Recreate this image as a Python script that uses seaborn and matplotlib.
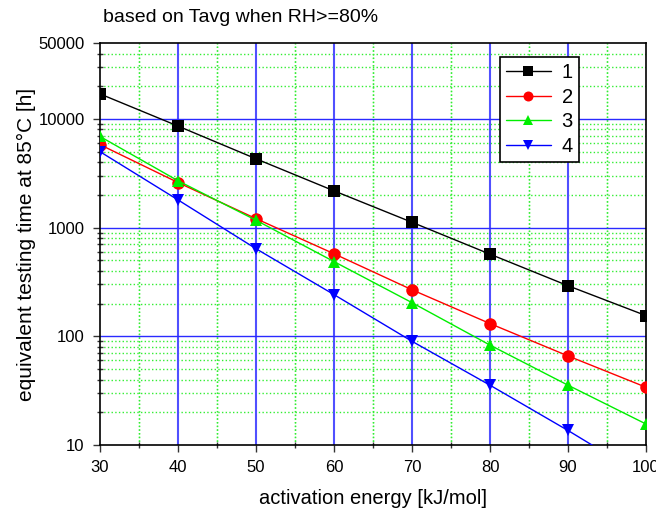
import numpy as np
import pandas as pd
import seaborn as sns
import matplotlib
matplotlib.use("Agg")
from matplotlib import pyplot as plt
from matplotlib.ticker import FixedLocator, MultipleLocator, NullFormatter

# activation energy [kJ/mol]
energy = [30, 40, 50, 60, 70, 80, 90, 100]

# equivalent testing time at 85 C [h]
series_1 = [17000, 8600, 4300, 2180, 1120, 570, 292, 155]
series_2 = [5800, 2600, 1210, 575, 268, 131, 66, 34]
series_3 = [6900, 2700, 1170, 487, 204, 83, 35.5, 15.6]
series_4 = [5000, 1800, 640, 242, 90, 35.5, 13.6, 5.0]

labels = ["1", "2", "3", "4"]
colours = {"1": "black", "2": "red", "3": "#00ee00", "4": "blue"}
markers = {"1": "s", "2": "o", "3": "^", "4": "v"}

frames = []
for lab, vals in zip(labels, [series_1, series_2, series_3, series_4]):
    frames.append(pd.DataFrame({"energy": energy, "time": vals, "series": lab}))
data = pd.concat(frames, ignore_index=True)

sns.set_style("white")
plt.rcParams["font.family"] = ["Liberation Sans", "DejaVu Sans"]
plt.rcParams["text.color"] = "black"
plt.rcParams["axes.labelcolor"] = "black"
plt.rcParams["xtick.color"] = "black"
plt.rcParams["ytick.color"] = "black"

fig = plt.figure(figsize=(6.56, 5.08), dpi=100)
ax = fig.add_axes([0.1524, 0.124, 0.8324, 0.7914])

sns.lineplot(data=data, x="energy", y="time", hue="series", style="series",
             palette=colours, markers=markers, dashes=False, markersize=9,
             markeredgewidth=0, linewidth=1, ax=ax, zorder=3, clip_on=True)

ax.set_yscale("log")
ax.set_xlim(30, 100)
ax.set_ylim(10, 50000)

ax.xaxis.set_major_locator(MultipleLocator(10))
ax.xaxis.set_minor_locator(MultipleLocator(5))
ax.yaxis.set_major_locator(FixedLocator([10, 100, 1000, 10000, 50000]))
ax.set_yticklabels(["10", "100", "1000", "10000", "50000"])
minor_y = [m * 10 ** k for k in range(1, 5) for m in range(2, 10) if m * 10 ** k < 50000]
ax.yaxis.set_minor_locator(FixedLocator(minor_y))
ax.yaxis.set_minor_formatter(NullFormatter())

# grid: blue major, green dotted minor
ax.set_axisbelow(True)
for x in range(40, 100, 10):
    ax.axvline(x, color="#5050ff", lw=1.5, zorder=1)
for y in [100, 1000, 10000]:
    ax.axhline(y, color="#2a2aff", lw=1.0, zorder=1)
ax.grid(True, which="minor", color="#33ee33", ls=":", lw=1.0, zorder=0)
for x in range(35, 100, 10):
    ax.axvline(x, color="#33ee33", ls=":", lw=1.0, zorder=0)

for s in ax.spines.values():
    s.set_color("black")
    s.set_linewidth(1.2)

ax.tick_params(which="major", direction="out", length=5, width=1, labelsize=12,
               color="#333333", bottom=True, left=True, pad=6)
ax.tick_params(which="minor", direction="inout", length=4, width=1,
               color="#333333", bottom=True, left=True)

ax.set_xlabel("activation energy [kJ/mol]", fontsize=14.5, labelpad=10)
ax.set_ylabel("equivalent testing time at 85°C [h]", fontsize=15, labelpad=2)
fig.text(0.157, 0.965, "based on Tavg when RH>=80%", fontsize=14, ha="left", va="center")

leg = ax.legend(loc="upper left", bbox_to_anchor=(0.733, 0.965), frameon=True,
                fancybox=False, edgecolor="black", framealpha=1, fontsize=14.5,
                handlelength=2.2, borderpad=0.3, labelspacing=0.28,
                handletextpad=0.55, borderaxespad=0, markerscale=0.8)
leg.get_frame().set_linewidth(1.2)

fig.savefig("out.png", dpi=100)
